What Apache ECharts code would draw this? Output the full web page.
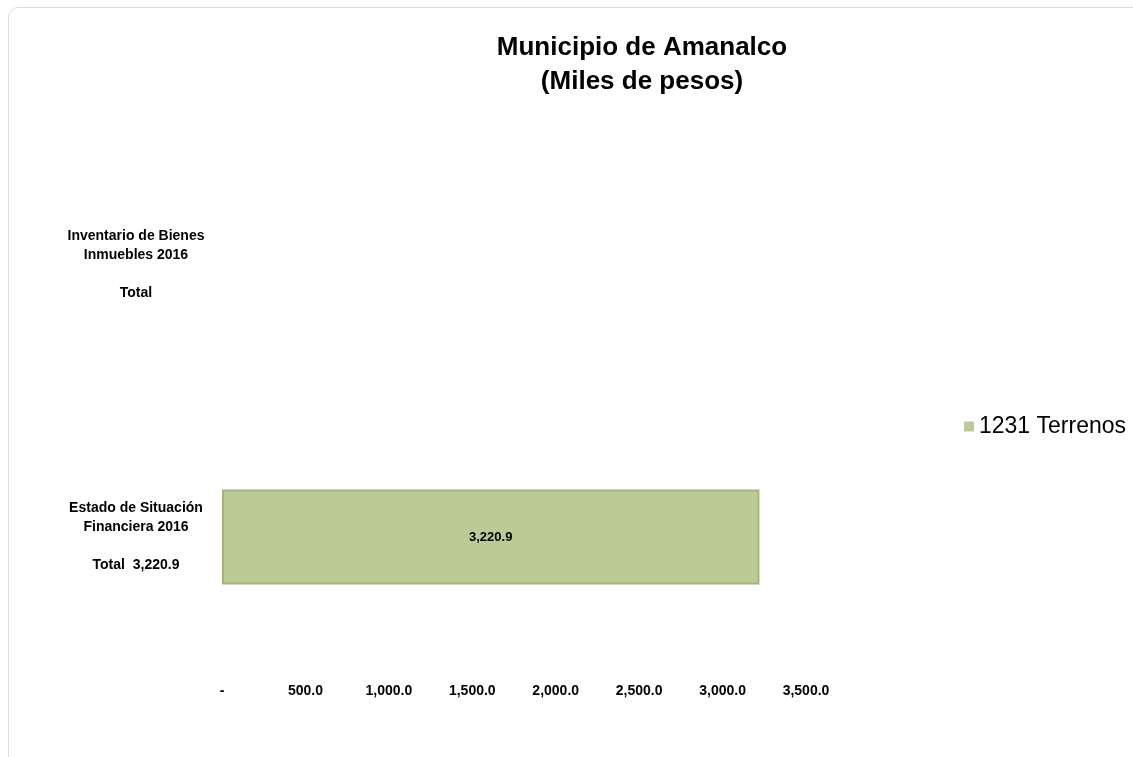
<!DOCTYPE html>
<html><head><meta charset="utf-8">
<script src="https://cdn.jsdelivr.net/npm/echarts@6/dist/echarts.min.js"></script>
<style>
html,body{margin:0;padding:0;background:#fff;}
#frame{position:absolute;left:8px;top:7px;width:1140px;height:760px;border:1px solid #dcdcdc;border-radius:10px;box-sizing:border-box;}
#c{position:absolute;left:0;top:0;width:1133px;height:757px;}
</style></head><body>
<div id="frame"></div>
<div id="c"></div>
<script>
const categories = ['Estado de Situación\nFinanciera 2016\n\nTotal  3,220.9', 'Inventario de Bienes\nInmuebles 2016\n\nTotal'];
const seriesName = '1231 Terrenos';
const values = [3220.9, null];
const tickLabels = ['-', '500.0', '1,000.0', '1,500.0', '2,000.0', '2,500.0', '3,000.0', '3,500.0'];

const FONT = '"Liberation Sans Narrow", "Arial Narrow", "Liberation Sans", Arial, sans-serif';
const chart = echarts.init(document.getElementById('c'));
chart.setOption({
  backgroundColor: 'transparent',
  animation: false,
  title: {
    text: 'Municipio de Amanalco\n(Miles de pesos)',
    left: 637, top: 26, textAlign: 'center',
    textStyle: {fontFamily: FONT, fontSize: 26, fontWeight: 'bold', color: '#000', lineHeight: 34}
  },
  legend: {
    data: [seriesName], right: 2, top: 410, orient: 'vertical',
    itemWidth: 10, itemHeight: 10, itemGap: 4,
    icon: 'rect',
    itemStyle: {borderWidth: 0},
    textStyle: {fontFamily: FONT, fontSize: 23, color: '#000'}
  },
  grid: {left: 222, right: 327, top: 129, bottom: 84, containLabel: false},
  xAxis: {
    type: 'value', min: 0, max: 3500, interval: 500,
    axisLine: {show: false}, axisTick: {show: false}, splitLine: {show: false},
    axisLabel: {
      margin: 11,
      fontFamily: FONT, fontSize: 14, fontWeight: 'bold', color: '#000',
      formatter: function (v) { return tickLabels[Math.round(v / 500)]; }
    }
  },
  yAxis: {
    type: 'category', data: categories,
    axisLine: {show: false}, axisTick: {show: false},
    axisLabel: {
      margin: 86, align: 'center',
      fontFamily: FONT, fontSize: 14, fontWeight: 'bold', color: '#000', lineHeight: 19
    }
  },
  series: [{
    name: seriesName, type: 'bar', data: values, barWidth: '35%',
    itemStyle: {color: '#BACB96', borderColor: '#A3B47F', borderWidth: 2},
    label: {
      show: true, position: 'inside',
      fontFamily: FONT, fontSize: 13, fontWeight: 'bold', color: '#000',
      formatter: function (p) { return p.value == null ? '' : p.value.toLocaleString('en-US', {minimumFractionDigits: 1, maximumFractionDigits: 1}); }
    }
  }]
});
</script>
</body></html>
